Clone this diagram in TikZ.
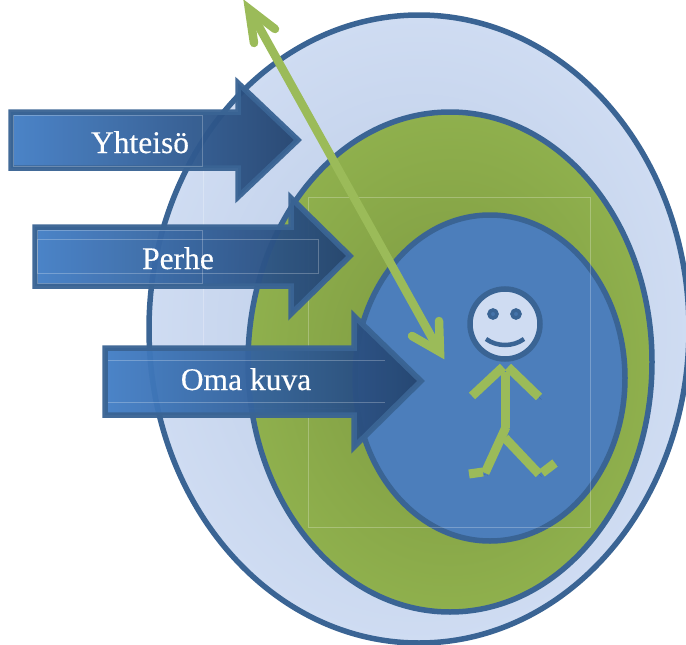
\documentclass[tikz,border=0pt]{standalone}
\usepackage{fontspec}
\setmainfont{Liberation Serif}
\newfontfamily\labelfont[FakeBold=0.4]{Liberation Serif}
\usepackage{xcolor}
\definecolor{ringline}{HTML}{3A6494}
\definecolor{ringlight}{HTML}{CFDCF2}
\definecolor{ringlightdark}{HTML}{B9CAE6}
\definecolor{ringgreen}{HTML}{8FB04D}
\definecolor{ringgreendark}{HTML}{7C9840}
\definecolor{ringblue}{HTML}{4C7EBB}
\definecolor{arrowleft}{HTML}{447FC6}
\definecolor{arrowright}{HTML}{254570}
\definecolor{limeline}{HTML}{9BBB59}
\tikzset{
  ring/.style={draw=ringline, line width=5.5pt},
  bigarrow/.style={draw=ringline, line width=5.5pt, miter limit=10, left color=arrowleft, right color=arrowright, opacity=0.96},
  arrowlabel/.style={anchor=base, text=white, font=\labelfont\fontsize{31.5}{36}\selectfont},
  guide/.style={draw=white, opacity=0.25, line width=1pt},
  eye/.style={circle, draw=ringline, line width=3.5pt, fill=ringblue!60!ringline, minimum size=8pt, inner sep=0pt},
  limeshadow/.style={preaction={draw=black, opacity=0.14, transform canvas={shift={(2.5,2.5)}}}},
  limeline/.style={draw=limeline, line width=8.5pt, line cap=round, limeshadow},
  stickline/.style={draw=limeline, line width=9pt, limeshadow}
}
\begin{document}
\begin{tikzpicture}[x=1pt, y=-1pt]
\useasboundingbox (0,0) rectangle (686,645);

% Rings
\path[ring, inner color=ringlightdark, outer color=ringlight] (419,329) ellipse [x radius=270, y radius=314];
\path[ring, inner color=ringgreendark, outer color=ringgreen] (450,362) ellipse [x radius=202, y radius=250];
\path[ring, fill=ringblue] (490,378) ellipse [x radius=135, y radius=163];

% Faint frames
\draw[guide] (308,197) rectangle (590,527);
\draw[guide] (203,114) -- (203,408) -- (350,408);

% Block arrows
\path[bigarrow] (11,112) -- (238,112) -- (238,83) -- (298,140) -- (238,197) -- (238,168) -- (11,168) -- cycle;
\path[bigarrow] (35,227) -- (291,227) -- (291,198) -- (350,256) -- (291,314) -- (291,286) -- (35,286) -- cycle;
\path[bigarrow] (105,348) -- (354,348) -- (354,316) -- (421,381) -- (354,447) -- (354,415) -- (105,415) -- cycle;
\draw[guide] (13,115) rectangle (202,166);
\draw[guide] (37,239) rectangle (318,273);
\draw[guide] (37,230) rectangle (202,283);
\draw[guide] (108,360) -- (385,360);
\draw[guide] (108,402) -- (385,402);

% Labels
\node[arrowlabel] (yhteiso) at (140,153) {Yhteisö};
\node[arrowlabel] (perhe) at (178,269) {Perhe};
\node[arrowlabel] (omakuva) at (246,390) {Oma kuva};

% Green double arrow
\coordinate (tiptop) at (249,9);
\coordinate (tipbottom) at (440,352);
\draw[limeline] (253,16) -- (436,345);
\draw[limeline, line join=miter] (254,43) -- (tiptop) -- (275,29);
\draw[limeline, line join=miter] (412,336) -- (tipbottom) -- (439,321);

% Face
\node[circle, draw=ringline, line width=5.5pt, fill=ringlight, minimum size=70pt, inner sep=0pt] (head) at (505,324) {};
\node[eye] (eyeleft) at (493,314) {};
\node[eye] (eyeright) at (516,314) {};
\draw[ringline, line width=4.5pt] (486,339) .. controls (497,347) and (513,347) .. (524,339);

% Body
\draw[stickline] (505,372) -- (505,428);
\draw[stickline] (503,367) -- (472,396);
\draw[stickline] (508,367) -- (539,397);
\draw[stickline] (506,427) -- (485,473);
\draw[stickline] (483,472) -- (469,474);
\draw[stickline] (505,438) -- (539,474);
\draw[stickline] (542,473) -- (555,463);
\end{tikzpicture}
\end{document}
